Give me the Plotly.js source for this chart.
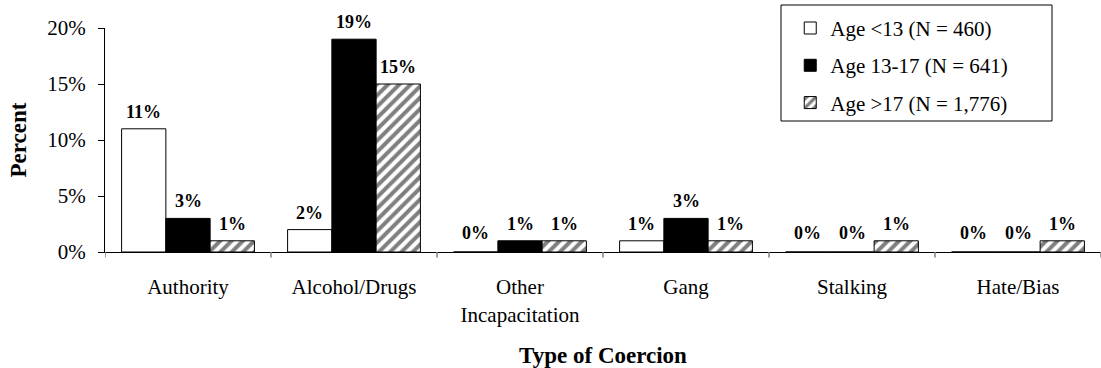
<!DOCTYPE html>
<html>
<head>
<meta charset="utf-8">
<script src="https://cdn.plot.ly/plotly-3.0.1.min.js"></script>
<style>html,body{margin:0;padding:0;background:#fff;}#chart{width:1101px;height:368px;}</style>
</head>
<body>
<div id="chart"></div>
<script>
const categories = ["Authority", "Alcohol/Drugs", "Other<br>Incapacitation", "Gang", "Stalking", "Hate/Bias"];
const seriesNames = ["Age <13 (N = 460)", "Age 13-17 (N = 641)", "Age >17 (N = 1,776)"];
const ageUnder13 = [11, 2, 0, 1, 0, 0];
const age13to17 = [3, 19, 1, 3, 0, 0];
const ageOver17 = [1, 15, 1, 1, 1, 1];
const seriesValues = [ageUnder13, age13to17, ageOver17];

const FONT = "'Liberation Serif', 'Times New Roman', serif";
const BARGAP = 0.2;

const markers = [
  {color: "#ffffff", line: {color: "#000", width: 1}},
  {color: "#000000", line: {color: "#000", width: 1}},
  {color: "#ffffff", line: {color: "#000", width: 1},
   pattern: {shape: "/", fgcolor: "#000", bgcolor: "#fff", size: 8, solidity: 0.5, fillmode: "overlay"}}
];

const idx = categories.map((c, j) => j);
const traces = seriesValues.map((vals, i) => ({
  type: "bar",
  name: seriesNames[i],
  x: idx,
  y: vals,
  marker: markers[i],
  legendgroup: "g" + i,
  hoverinfo: "skip"
}));

const annotations = [];
seriesValues.forEach((vals, i) => {
  vals.forEach((v, j) => {
    annotations.push({
      x: j + (i - 1) * (1 - BARGAP) / 3,
      y: v,
      xref: "x", yref: "y",
      text: "<b>" + v + "%</b>",
      showarrow: false,
      yanchor: "middle",
      yshift: v === 0 ? 19 : 17,
      font: {family: FONT, size: 18, color: "#000"}
    });
  });
});

const layout = {
  width: 1101, height: 368,
  margin: {l: 105, r: 0, t: 28, b: 116},
  paper_bgcolor: "#fff", plot_bgcolor: "#fff",
  font: {family: FONT, size: 21, color: "#000"},
  barmode: "group",
  bargap: BARGAP,
  bargroupgap: 0,
  showlegend: true,
  legend: {
    x: 0.688, y: 1.09, xanchor: "left", yanchor: "top",
    bgcolor: "rgba(0,0,0,0)", borderwidth: 0,
    font: {family: FONT, size: 21, color: "#000"},
    tracegroupgap: 7, traceorder: "grouped"
  },
  xaxis: {
    type: "linear",
    range: [-0.5, 5.5],
    tickmode: "array",
    tickvals: idx,
    ticktext: categories,
    showgrid: false, zeroline: false,
    showline: true, linecolor: "#000", linewidth: 1,
    ticks: "",
    ticklabelstandoff: 16,
    tickfont: {family: FONT, size: 21, color: "#000"},
    title: {text: "<b>Type of Coercion</b>", font: {family: FONT, size: 23, color: "#000"}, standoff: 22},
    automargin: false, fixedrange: true
  },
  yaxis: {
    range: [0, 20],
    dtick: 5,
    ticksuffix: "%",
    showgrid: false, zeroline: false,
    showline: true, linecolor: "#000", linewidth: 1,
    ticks: "outside", ticklen: 6, tickcolor: "#000",
    ticklabelstandoff: 8,
    tickfont: {family: FONT, size: 21, color: "#000"},
    title: {text: "<b>Percent</b>", font: {family: FONT, size: 23, color: "#000"}, standoff: 14},
    automargin: false, fixedrange: true
  },
  annotations: annotations,
  shapes: [
    {type: "rect", xref: "paper", yref: "paper", x0: (781 - 105) / 996, x1: (1052 - 105) / 996,
     y0: (252 - 121) / 224, y1: (252 - 5) / 224, line: {color: "#000", width: 1}, fillcolor: "rgba(0,0,0,0)", layer: "above"}
  ]
};
// category boundary ticks on the x axis
for (let k = 0; k <= categories.length; k++) {
  layout.shapes.push({type: "line", xref: "x", yref: "paper", x0: k - 0.5, x1: k - 0.5, y0: 0, y1: -0.025,
    line: {color: "#808080", width: 1.5}});
}

Plotly.newPlot("chart", traces, layout, {displayModeBar: false, staticPlot: true});
</script>
</body>
</html>
